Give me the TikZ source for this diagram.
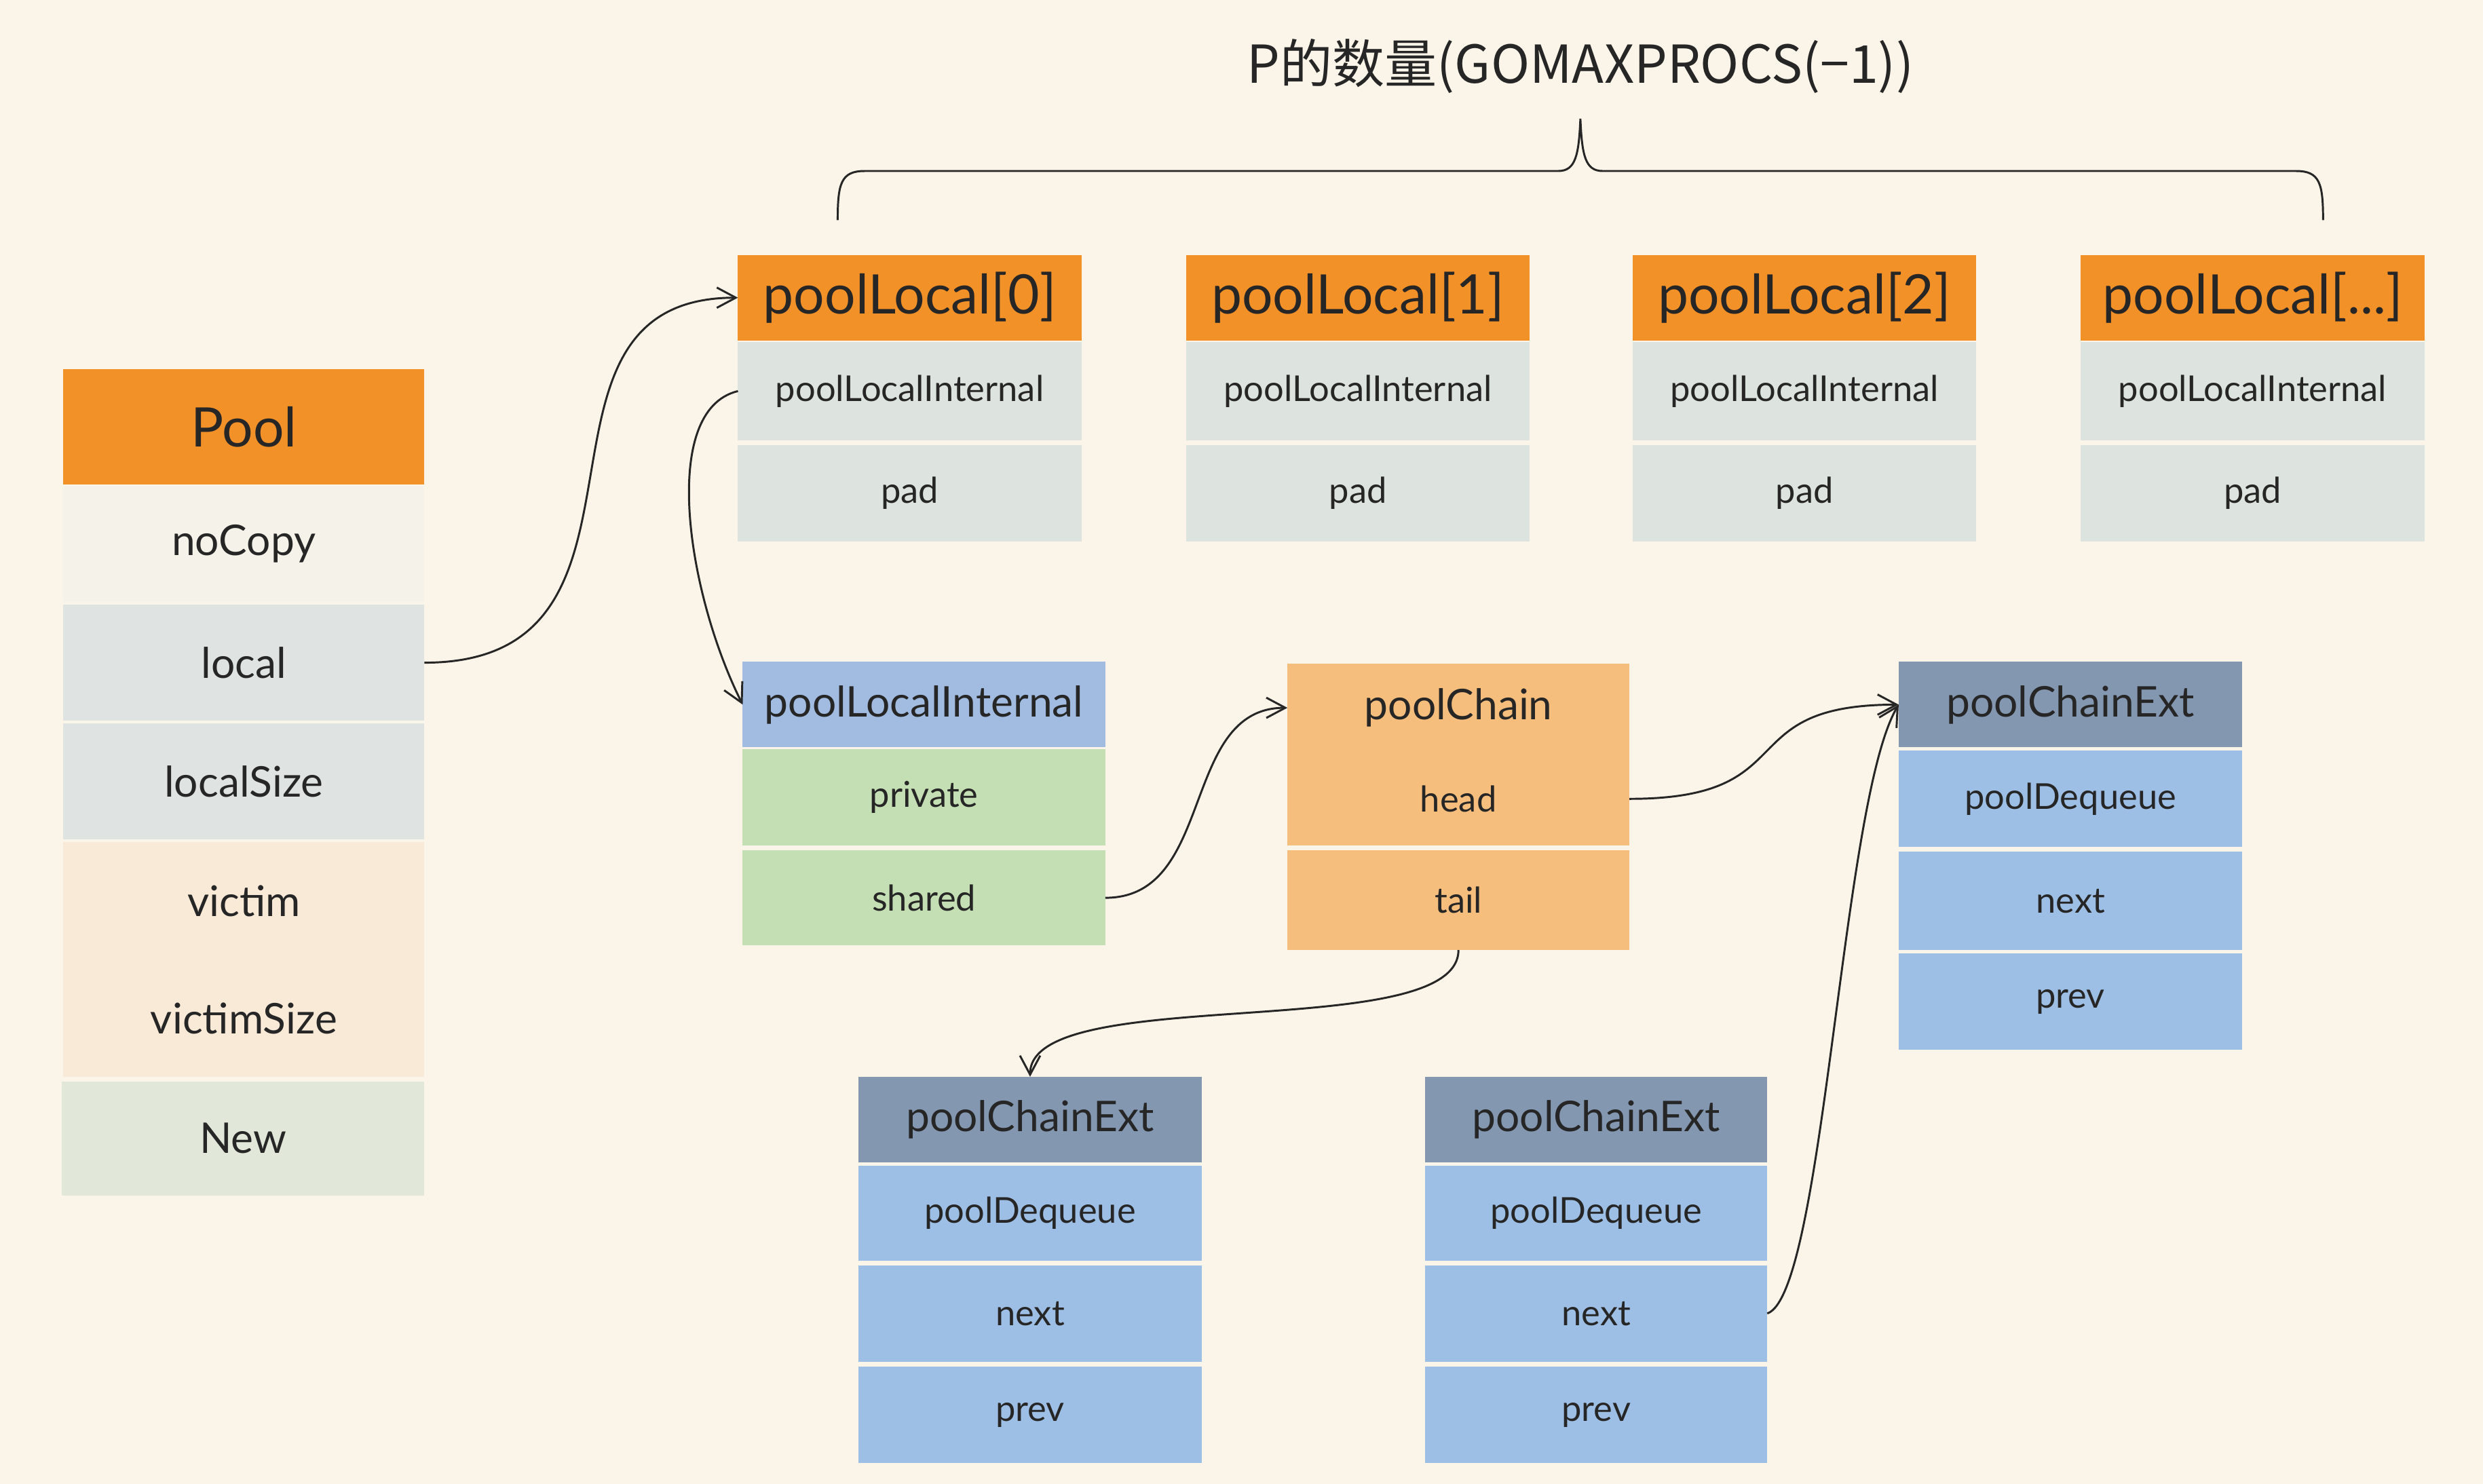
\documentclass[tikz,border=0pt]{standalone}
\usepackage{fontspec}
\setmainfont{Lato}
\newfontfamily\cjk{Noto Sans CJK SC}
\usetikzlibrary{arrows.meta}
\definecolor{bg}{HTML}{FAF4E9}
\definecolor{txt}{HTML}{262626}
\definecolor{orng}{HTML}{F39129}
\definecolor{nocp}{HTML}{F4F2E9}
\definecolor{lgrey}{HTML}{DFE4E3}
\definecolor{peach}{HTML}{F9EAD7}
\definecolor{lgreen}{HTML}{E2E8D9}
\definecolor{cellgrey}{HTML}{DDE3DE}
\definecolor{bluehdr}{HTML}{A1BBE1}
\definecolor{green}{HTML}{C5DFB4}
\definecolor{chain}{HTML}{F6BE7C}
\definecolor{slate}{HTML}{8497B1}
\definecolor{bluecell}{HTML}{9EBFE5}
\tikzset{
  cellbox/.style={rectangle, inner sep=0pt, outer sep=0pt, anchor=north west, text=txt, font=\fontsize{16}{19}\selectfont},
  sz/.style 2 args={minimum width=#1*0.25mm, minimum height=#2*0.25mm},
  med/.style={font=\fontsize{19}{22}\selectfont},
  big/.style={font=\fontsize{24.5}{28}\selectfont},
  conn/.style={draw=txt, line width=0.9pt, -{Straight Barb[length=3mm,width=3.2mm]}},
}
\begin{document}
\begin{tikzpicture}[x=0.25mm, y=-0.25mm]
\fill[bg] (0,0) rectangle (1568,937);
\useasboundingbox (0,0) rectangle (1568,937);

% title and brace
\node[text=txt, font=\cjk\fontsize{23.5}{28}\selectfont] (title) at (998,42) {P的数量(GOMAXPROCS(−1))};
\draw[line width=0.9pt, txt] (529,139) .. controls (529,116) and (531,108) .. (546,108) -- (984,108) .. controls (995,108) and (997,98) .. (998,75) .. controls (999,98) and (1001,108) .. (1012,108) -- (1450,108) .. controls (1465,108) and (1467,116) .. (1467,139);

% Pool
\node[cellbox, big, fill=orng, sz={228}{73}] (pool) at (40,233) {Pool};
\node[cellbox, med, fill=nocp, sz={228}{73}] (nocopy) at (40,307) {noCopy};
\node[cellbox, med, fill=lgrey, sz={228}{73}] (local) at (40,382) {local};
\node[cellbox, med, fill=lgrey, sz={228}{73}] (localsize) at (40,457) {localSize};
\node[cellbox, med, fill=peach, sz={228}{74}] (victim) at (40,532) {victim};
\node[cellbox, med, fill=peach, sz={228}{74}] (victimsize) at (40,606) {victimSize};
\node[cellbox, med, fill=lgreen, sz={229}{72}] (new) at (39,683) {New};

% poolLocal columns
\node[cellbox, big, fill=orng, sz={217}{54}] (plh0) at (466,161) {poolLocal[0]};
\node[cellbox, fill=cellgrey, sz={217}{62}] (pli0) at (466,216) {poolLocalInternal};
\node[cellbox, fill=cellgrey, sz={217}{61}] (pad0) at (466,281) {pad};
\node[cellbox, big, fill=orng, sz={217}{54}] (plh1) at (749,161) {poolLocal[1]};
\node[cellbox, fill=cellgrey, sz={217}{62}] (pli1) at (749,216) {poolLocalInternal};
\node[cellbox, fill=cellgrey, sz={217}{61}] (pad1) at (749,281) {pad};
\node[cellbox, big, fill=orng, sz={217}{54}] (plh2) at (1031,161) {poolLocal[2]};
\node[cellbox, fill=cellgrey, sz={217}{62}] (pli2) at (1031,216) {poolLocalInternal};
\node[cellbox, fill=cellgrey, sz={217}{61}] (pad2) at (1031,281) {pad};
\node[cellbox, big, fill=orng, sz={217}{54}] (plh3) at (1314,161) {poolLocal[...]};
\node[cellbox, fill=cellgrey, sz={217}{62}] (pli3) at (1314,216) {poolLocalInternal};
\node[cellbox, fill=cellgrey, sz={217}{61}] (pad3) at (1314,281) {pad};

% poolLocalInternal
\node[cellbox, med, fill=bluehdr, sz={229}{54}] (plint) at (469,418) {poolLocalInternal};
\node[cellbox, fill=green, sz={229}{61}] (private) at (469,473) {private};
\node[cellbox, fill=green, sz={229}{60}] (shared) at (469,537) {shared};

% poolChain
\node[cellbox, med, fill=chain, sz={216}{56}] (pchain) at (813,419) {poolChain};
\node[cellbox, fill=chain, sz={216}{59}] (head) at (813,475) {head};
\node[cellbox, fill=chain, sz={216}{63}] (tail) at (813,537) {tail};

% poolChainExt right
\node[cellbox, med, fill=slate, sz={217}{54}] (pceR) at (1199,418) {poolChainExt};
\node[cellbox, fill=bluecell, sz={217}{61}] (pdqR) at (1199,474) {poolDequeue};
\node[cellbox, fill=bluecell, sz={217}{62}] (nextR) at (1199,538) {next};
\node[cellbox, fill=bluecell, sz={217}{61}] (prevR) at (1199,602) {prev};

% poolChainExt bottom left
\node[cellbox, med, fill=slate, sz={217}{54}] (pceA) at (542,680) {poolChainExt};
\node[cellbox, fill=bluecell, sz={217}{60}] (pdqA) at (542,736) {poolDequeue};
\node[cellbox, fill=bluecell, sz={217}{61}] (nextA) at (542,799) {next};
\node[cellbox, fill=bluecell, sz={217}{61}] (prevA) at (542,863) {prev};

% poolChainExt bottom right
\node[cellbox, med, fill=slate, sz={216}{54}] (pceB) at (900,680) {poolChainExt};
\node[cellbox, fill=bluecell, sz={216}{60}] (pdqB) at (900,736) {poolDequeue};
\node[cellbox, fill=bluecell, sz={216}{61}] (nextB) at (900,799) {next};
\node[cellbox, fill=bluecell, sz={216}{61}] (prevB) at (900,863) {prev};

% connectors
\draw[conn] (local.east) .. controls +(165,0) and +(-150,0) .. (plh0.west);
\draw[conn] (pli0.west) .. controls +(-50,12) and +(-35,-70) .. (plint.west);
\draw[conn] (shared.east) .. controls +(70,0) and +(-68,0) .. (pchain.west);
\draw[conn] (head.east) .. controls +(112,0) and +(-108,0) .. (pceR.west);
\draw[conn] (tail.south) .. controls +(0,60) and +(0,-60) .. (pceA.north);
\draw[conn] (nextB.east) .. controls +(36,-12) and +(-36,60) .. (pceR.west);
\end{tikzpicture}
\end{document}
